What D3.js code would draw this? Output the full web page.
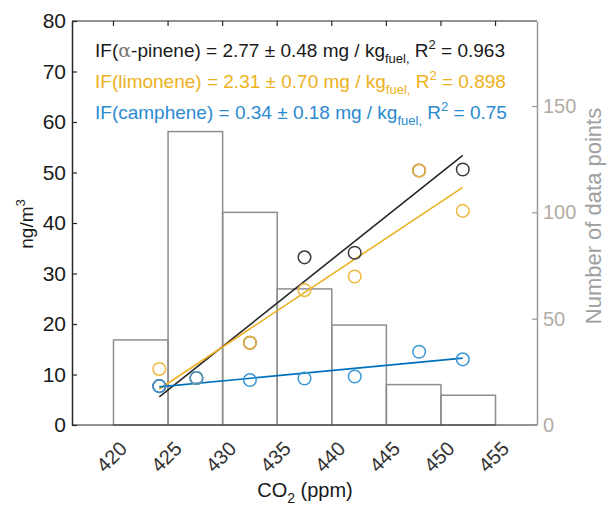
<!DOCTYPE html>
<html>
<head>
<meta charset="utf-8">
<script src="https://cdn.jsdelivr.net/npm/d3@7"></script>
<style>
  body { margin: 0; background: #fff; }
  svg text { font-family: "Liberation Sans", Arial, sans-serif; }
</style>
</head>
<body>
<div class="chart"></div>
<script>
// CO2 bins for the histogram and its counts (right axis)
const binEdges = [420, 425, 430, 435, 440, 445, 450, 455];
const binCounts = [40, 138, 100, 64, 47, 19, 14];

// concentration points (left axis)
const co2 = [424.2, 427.6, 432.5, 437.5, 442.1, 448.0, 452.0];
const pinene = [7.7, 9.3, 16.3, 33.2, 34.1, 50.4, 50.6];
const limonene = [11.1, 9.3, 16.3, 26.7, 29.4, 50.4, 42.4];
const camphene = [7.7, 9.3, 8.9, 9.2, 9.6, 14.5, 13.0];

const xTicks = [420, 425, 430, 435, 440, 445, 450, 455];
const yTicks = [0, 10, 20, 30, 40, 50, 60, 70, 80];
const y2Ticks = [0, 50, 100, 150];

const W = 613, H = 506;
const pLeft = 72, pRight = 537, pTop = 21, pBottom = 425;

const svg = d3.select(".chart")
    .append("svg")
    .attr("width", W)
    .attr("height", H)

const x = d3.scaleLinear().domain([416.2, 458.8]).range([pLeft, pRight]);
const y = d3.scaleLinear().domain([0, 80]).range([pBottom, pTop]);
const y2 = d3.scaleLinear().domain([0, 190]).range([pBottom, pTop]);

// histogram bars
const bins = binCounts.map((c, i) => ({ x0: binEdges[i], x1: binEdges[i + 1], n: c }));
svg.append("g")
    .selectAll("rect")
    .data(bins)
    .enter()
    .append("rect")
    .attr("x", d => x(d.x0))
    .attr("width", d => x(d.x1) - x(d.x0))
    .attr("y", d => y2(d.n))
    .attr("height", d => y2(0) - y2(d.n))
    .style("fill", "none")
    .style("stroke", "#8e8e8e")
    .style("stroke-width", 1.5)

// least squares fit from the points
function fit(xs, ys) {
    const mx = d3.mean(xs), my = d3.mean(ys);
    const sxy = d3.sum(xs, (v, i) => (v - mx) * (ys[i] - my));
    const sxx = d3.sum(xs, v => (v - mx) * (v - mx));
    const b = sxy / sxx;
    const x0 = d3.min(xs), x1 = d3.max(xs);
    return [[x0, my + b * (x0 - mx)], [x1, my + b * (x1 - mx)]];
}

const series = [
    { vals: pinene, line: "#262626", dot: "#3a3a3a" },
    { vals: limonene, line: "#EDB120", dot: "#F0B840" },
    { vals: camphene, line: "#0072BD", dot: "#3b96d6" }
];

const line = d3.line().x(d => x(d[0])).y(d => y(d[1]));

series.forEach(s => {
    svg.append("path")
        .datum(fit(co2, s.vals))
        .attr("d", line)
        .style("fill", "none")
        .style("stroke", s.line)
        .style("stroke-width", 1.6)
})

series.forEach(s => {
    svg.append("g")
        .selectAll("circle")
        .data(s.vals)
        .enter()
        .append("circle")
        .attr("cx", (d, i) => x(co2[i]))
        .attr("cy", d => y(d))
        .attr("r", 6.3)
        .style("fill", "none")
        .style("stroke", s.dot)
        .style("stroke-width", 1.5)
})

// frame: top and bottom black, right gray
svg.append("line").attr("x1", pLeft).attr("x2", pRight).attr("y1", pTop).attr("y2", pTop)
    .style("stroke", "#262626").style("stroke-width", 1.2)
svg.append("line").attr("x1", pLeft).attr("x2", pRight).attr("y1", pBottom).attr("y2", pBottom)
    .style("stroke", "#262626").style("stroke-width", 1.2)

// top ticks
svg.append("g").selectAll("line").data(xTicks).enter().append("line")
    .attr("x1", d => x(d)).attr("x2", d => x(d))
    .attr("y1", pTop).attr("y2", pTop + 5)
    .style("stroke", "#262626").style("stroke-width", 1.2)

// left axis
const yAxis = svg.append("g")
    .attr("transform", "translate(" + pLeft + ",0)")
    .call(d3.axisLeft(y).tickValues(yTicks).tickSize(-5).tickPadding(6).tickSizeOuter(0))
yAxis.select(".domain").style("stroke", "#262626").style("stroke-width", 1.5)
yAxis.selectAll(".tick line").style("stroke", "#262626").style("stroke-width", 1.2)
yAxis.selectAll("text").style("font-size", "21px").style("fill", "#1a1a1a")

// right axis
const y2Axis = svg.append("g")
    .attr("transform", "translate(" + pRight + ",0)")
    .call(d3.axisRight(y2).tickValues(y2Ticks).tickSize(-5).tickPadding(6).tickSizeOuter(0))
y2Axis.select(".domain").style("stroke", "#999").style("stroke-width", 1.5)
y2Axis.selectAll(".tick line").style("stroke", "#999").style("stroke-width", 1.2)
y2Axis.selectAll("text").style("font-size", "20px").style("fill", "#b3aca4")

// bottom tick labels, rotated
svg.append("g").selectAll("text").data(xTicks).enter().append("text")
    .attr("transform", d => "translate(" + (x(d) + 10) + "," + 445 + ") rotate(-45)")
    .attr("text-anchor", "end")
    .attr("dy", "0.35em")
    .style("font-size", "20px")
    .style("fill", "#333")
    .text(d => d)

// axis titles
const xt = svg.append("text")
    .attr("x", 305).attr("y", 497)
    .attr("text-anchor", "middle")
    .style("font-size", "20px")
    .style("fill", "#1a1a1a")
xt.append("tspan").text("CO")
xt.append("tspan").attr("dy", 6).style("font-size", "14px").text("2")
xt.append("tspan").attr("dy", -6).text(" (ppm)")

const yt = svg.append("text")
    .attr("transform", "translate(33,224) rotate(-90)")
    .attr("text-anchor", "middle")
    .style("font-size", "19px")
    .style("fill", "#1a1a1a")
yt.append("tspan").text("ng/m")
yt.append("tspan").attr("dy", -8).style("font-size", "13px").text("3")

svg.append("text")
    .attr("transform", "translate(601,216) rotate(-90)")
    .attr("text-anchor", "middle")
    .style("font-size", "22px")
    .style("fill", "#a0a0a0")
    .text("Number of data points")

// fit annotations
const labels = [
    { name: "α-pinene", val: "2.77 ± 0.48", r2: "0.963", color: "#1a1a1a", y: 57 },
    { name: "limonene", val: "2.31 ± 0.70", r2: "0.898", color: "#EDB120", y: 88 },
    { name: "camphene", val: "0.34 ± 0.18", r2: "0.75", color: "#2b8ad0", y: 119 }
];

labels.forEach(l => {
    const t = svg.append("text")
        .attr("x", 95).attr("y", l.y)
        .style("font-size", "19px")
        .style("fill", l.color)
    if (l.name == "α-pinene") {
        t.append("tspan").text("IF(")
        t.append("tspan").style("font-family", "'DejaVu Serif', serif").style("fill", "#777").text("α")
        t.append("tspan").text("-pinene) = " + l.val + " mg / kg")
    } else {
        t.append("tspan").text("IF(" + l.name + ") = " + l.val + " mg / kg")
    }
    t.append("tspan").attr("dy", 6).style("font-size", "13px").text("fuel,")
    t.append("tspan").attr("dy", -6).text(" R")
    t.append("tspan").attr("dy", -8).style("font-size", "13px").text("2")
    t.append("tspan").attr("dy", 8).text(" = " + l.r2)
})
</script>
</body>
</html>
